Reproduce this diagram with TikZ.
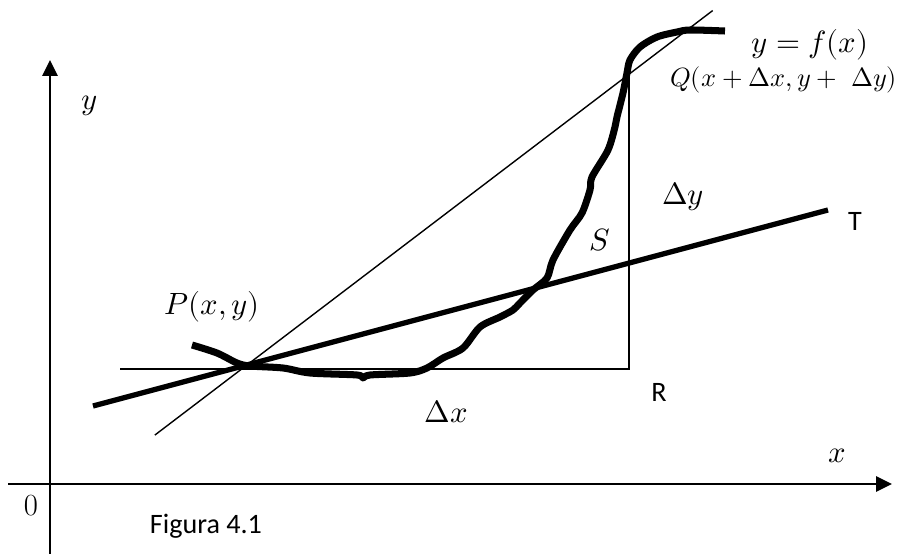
\documentclass[tikz,border=0pt]{standalone}
\usepackage{fontspec}
\usepackage{unicode-math}
\setmathfont{Latin Modern Math}
\newfontfamily\calfont{Carlito}
\usetikzlibrary{arrows.meta,calc}

\begin{document}
\begin{tikzpicture}[x=0.02cm, y=-0.02cm, every node/.style={font=\fontsize{17.5}{21}\selectfont}]
  \tikzstyle{axis}=[line width=1.6pt,-{Triangle[length=9pt,width=8.5pt]}]
  \tikzstyle{thinline}=[line width=0.8pt]
  \tikzstyle{heavy}=[line width=4pt,line join=round,line cap=butt]
  \tikzstyle{lab}=[font=\calfont\fontsize{16}{19}\selectfont]
  \useasboundingbox (0,0) rectangle (904,554);
  % axes
  \coordinate (xstart) at (8,484);
  \coordinate (xend) at (892,484);
  \coordinate (ystart) at (50,554);
  \coordinate (yend) at (50,60);
  \draw[axis] (xstart) -- (xend);
  \draw[axis] (ystart) -- (yend);
  \node (zero) at (31,506) {0};
  \node (xlab) at (837,456) {$x$};
  \node (ylab) at (89,106) {$y$};
  \node[lab] (fig) at (206,526) {Figura 4.1};
  % points
  \coordinate (P) at (243,368);
  \coordinate (Q) at (628,75);
  \coordinate (R) at (629,369);
  \coordinate (PL) at (120,369);
  \coordinate (Qtop) at (629,72);
  \coordinate (T0) at (93,406);
  \coordinate (T) at (828,210);
  % curve y=f(x)
  \draw[heavy] plot[smooth,tension=0.5] coordinates {(192,345) (217,353) (237,363) (250,366)
    (283,368) (310,373) (357,375) (363,378) (370,375) (410,373) (427,368) (443,358) (463,348)
    (480,327) (500,317) (513,310) (520,303) (533,290) (547,278) (553,260) (570,230) (582,213)
    (590,190) (592,177) (608,150) (615,127) (617,117) (623,93) (627,73) (630,60) (640,47)
    (657,37) (677,32) (690,30) (725,31)};
  % secant, triangle, tangent
  \draw[thinline] ($(P)!-0.229!(Q)$) -- ($(P)!1.22!(Q)$);
  \draw[thinline] (PL) -- (R) -- (Qtop);
  \draw[line width=3pt] (T0) -- (T);
  % labels
  \node (flab) at (810,45) {$y=f(x)$};
  \node[anchor=west,inner sep=1pt,font=\fontsize{15}{18}\selectfont] (qlab) at (668,80) {$Q(x+\Delta x,y+\ \Delta y)$};
  \node (dy) at (683,197) {$\Delta y$};
  \node (s) at (600,240) {$S$};
  \node (plab) at (212,307) {$P(x,y)$};
  \node (dx) at (446,412) {$\Delta x$};
  \node[lab] (rlab) at (659,392) {R};
  \node[lab] (tlab) at (855,221) {T};
\end{tikzpicture}
\end{document}
